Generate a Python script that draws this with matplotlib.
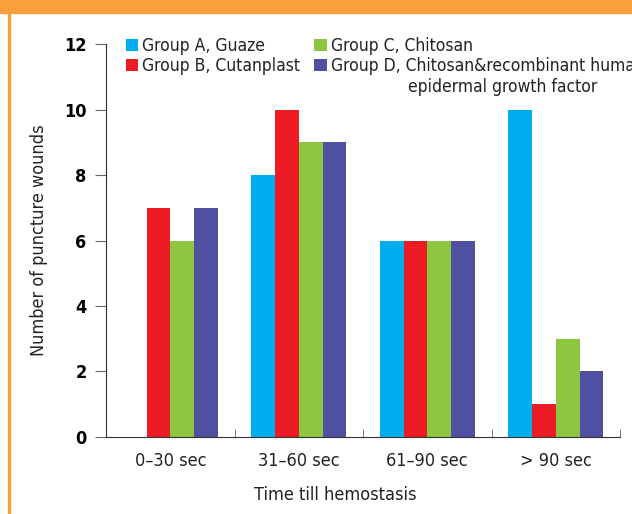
import numpy as np
import matplotlib.pyplot as plt
from matplotlib.patches import Rectangle

plt.rcParams['font.family'] = ['DejaVu Sans']
plt.rcParams['font.stretch'] = 'condensed'

categories = ['0–30 sec', '31–60 sec', '61–90 sec', '> 90 sec']
group_a = [0, 8, 6, 10]
group_b = [7, 10, 6, 1]
group_c = [6, 9, 6, 3]
group_d = [7, 9, 6, 2]
labels = ['Group A, Guaze', 'Group B, Cutanplast', 'Group C, Chitosan',
          'Group D, Chitosan&recombinant human']
colors = ['#00AEEF', '#ED1C24', '#8DC63F', '#5050A2']

fig = plt.figure(figsize=(6.32, 5.14), dpi=100)
# orange frame
fig.patches.append(Rectangle((0, 0.975), 1, 0.025, transform=fig.transFigure,
                             color='#F7A03C', zorder=0))
fig.patches.append(Rectangle((0.012, 0), 0.004, 0.98, transform=fig.transFigure,
                             color='#F7A03C', zorder=0))

ax = fig.add_axes([0.168, 0.150, 0.813, 0.764])
x = np.arange(len(categories))
w = 0.185
series = [group_a, group_b, group_c, group_d]
for i, (vals, lab, c) in enumerate(zip(series, labels, colors)):
    ax.bar(x + (i - 1.5) * w, vals, w, color=c, label=lab)

ax.set_xlim(-0.5, 3.5)
ax.set_ylim(0, 12)
ax.set_yticks([0, 2, 4, 6, 8, 10, 12])
ax.set_xticks(x)
ax.set_xticklabels(categories, fontsize=13, color='#222222')
ax.set_xticks(np.arange(-0.5, 4, 1), minor=True)
ax.tick_params(axis='x', which='major', length=0, pad=11)
ax.tick_params(axis='x', which='minor', direction='in', length=6, color='#666666')
ax.tick_params(axis='y', direction='out', length=8, labelsize=13, pad=6, color='#666666')
for t in ax.get_yticklabels():
    t.set_fontweight('bold')
ax.spines['top'].set_visible(False)
ax.spines['right'].set_visible(False)
ax.spines['left'].set_color('#333333')
ax.spines['bottom'].set_color('#333333')
ax.set_ylabel('Number of puncture wounds', fontsize=13, labelpad=12, color='#222222')
ax.set_xlabel('Time till hemostasis', fontsize=13, color='#222222')
ax.xaxis.set_label_coords(0.445, -0.125)

leg = ax.legend(loc='upper left', bbox_to_anchor=(0.025, 1.035), ncol=2, frameon=False,
                fontsize=12.5, handlelength=0.7, handleheight=0.7, handletextpad=0.25,
                columnspacing=0.8, labelspacing=0.1, borderaxespad=0)
for t in leg.get_texts():
    t.set_color('#222222')
ax.text(0.588, 0.89, 'epidermal growth factor', transform=ax.transAxes,
        fontsize=12.5, color='#222222', va='center', ha='left')

fig.savefig('out.png', dpi=100)
